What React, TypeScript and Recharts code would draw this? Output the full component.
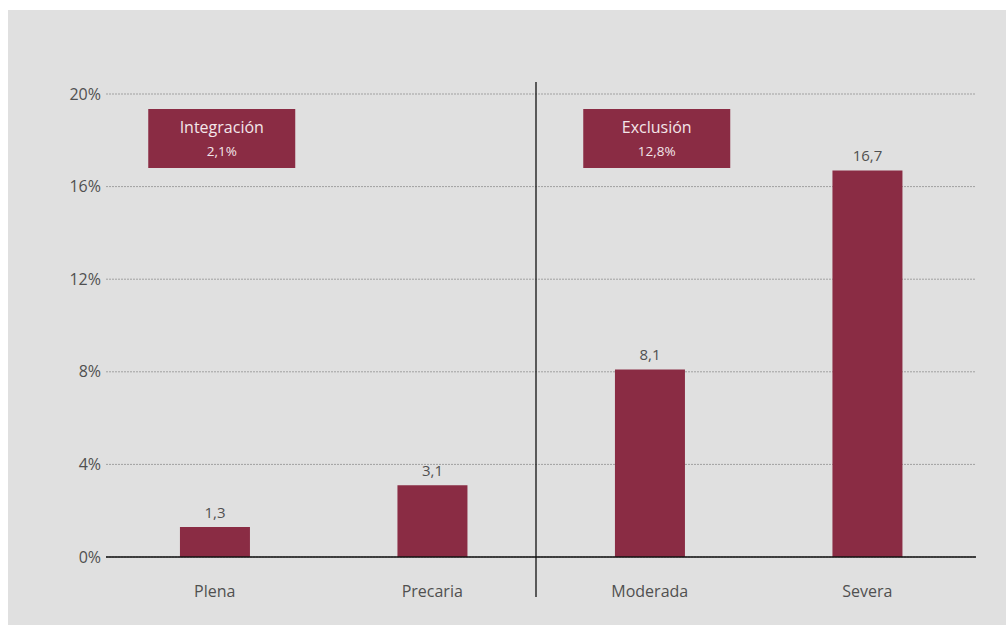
import { BarChart, Bar, XAxis, YAxis, CartesianGrid, LabelList } from 'recharts';

const categories = ['Plena', 'Precaria', 'Moderada', 'Severa'];
const values = [1.3, 3.1, 8.1, 16.7];
const yTicks = [0, 4, 8, 12, 16, 20];
const groupTitles = ['Integración', 'Exclusión'];
const groupTotals = ['2,1%', '12,8%'];

const W = 998;
const H = 615;
const M = { top: 84, right: 30, bottom: 0, left: 0 };
const Y_AXIS_W = 98;
const X_AXIS_H = 68;
const BAR = '#8a2c44';
const TEXT = '#505050';
const FONT = '"Open Sans", sans-serif';

const data = categories.map((name, i) => ({ name, value: values[i] }));

// plot area, derived from the fixed margins above
const plotLeft = M.left + Y_AXIS_W;
const plotRight = W - M.right;
const plotTop = M.top;
const plotBottom = H - M.bottom - X_AXIS_H;
const band = (plotRight - plotLeft) / categories.length;

function Decorations() {
  const sepX = plotLeft + band * 2 - 5;
  const boxW = 147;
  const boxH = 59;
  const boxTop = plotTop + 15;
  return (
    <g>
      <line x1={sepX} x2={sepX} y1={plotTop - 12} y2={plotBottom + 40} stroke="#111" strokeWidth={1.3} />
      {groupTitles.map((t, i) => {
        const cx = plotLeft + band * (i * 2 + 0.5) + 7;
        return (
          <g key={t}>
            <rect x={cx - boxW / 2} y={boxTop} width={boxW} height={boxH} fill={BAR} />
            <text x={cx} y={boxTop + 24} textAnchor="middle" fill="#f3e6ea" fontSize={16} fontFamily={FONT}>
              {t}
            </text>
            <text x={cx} y={boxTop + 47} textAnchor="middle" fill="#f3e6ea" fontSize={13.5} fontFamily={FONT}>
              {groupTotals[i]}
            </text>
          </g>
        );
      })}
    </g>
  );
}

export default function App() {
  return (
    <>
      <style>{'body{margin:0;overflow:hidden}'}</style>
      <div style={{ position: 'absolute', left: 8, top: 10, width: W, height: H, background: '#e0e0e0' }}>
        <BarChart width={W} height={H} data={data} margin={M} barCategoryGap="34%">
          <CartesianGrid vertical={false} stroke="#a0a0a0" strokeDasharray="2 1" />
          <XAxis
            dataKey="name"
            height={X_AXIS_H}
            tickSize={0}
            tickMargin={29}
            axisLine={{ stroke: '#111', strokeWidth: 1.5 }}
            tick={{ fill: TEXT, fontSize: 16, fontFamily: FONT }}
          />
          <YAxis
            width={Y_AXIS_W}
            domain={[0, 20]}
            ticks={yTicks}
            interval={0}
            axisLine={false}
            tickLine={false}
            tickSize={0}
            tickMargin={5}
            tickFormatter={(v: number) => `${v}%`}
            tick={{ fill: TEXT, fontSize: 16, fontFamily: FONT }}
          />
          <Bar dataKey="value" fill={BAR} isAnimationActive={false}>
            <LabelList
              dataKey="value"
              position="top"
              offset={9}
              formatter={(v: number) => String(v).replace('.', ',')}
              style={{ fill: TEXT, fontSize: 15, fontFamily: FONT }}
            />
          </Bar>
          <Decorations />
        </BarChart>
      </div>
    </>
  );
}
